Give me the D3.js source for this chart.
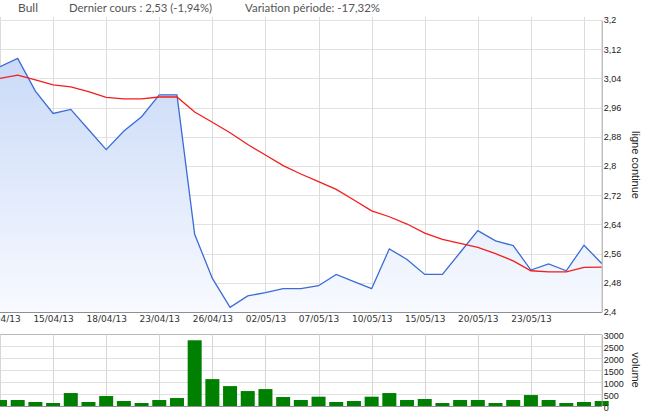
<!DOCTYPE html>
<html><head><meta charset="utf-8">
<script src="https://cdn.jsdelivr.net/npm/d3@7"></script>
<style>
body{margin:0;background:#fff;}
svg{display:block;font-family:"Liberation Sans",Arial,sans-serif;}
</style>
</head><body>
<svg id="chart" width="653" height="417"></svg>
<script>
// ---- data ----
const dates = ["10/04/13","11/04/13","12/04/13","15/04/13","16/04/13","17/04/13","18/04/13","19/04/13","22/04/13","23/04/13",
  "24/04/13","25/04/13","26/04/13","29/04/13","30/04/13","02/05/13","03/05/13","06/05/13","07/05/13","08/05/13",
  "09/05/13","10/05/13","13/05/13","14/05/13","15/05/13","16/05/13","17/05/13","20/05/13","21/05/13","22/05/13",
  "23/05/13","24/05/13","27/05/13","28/05/13","29/05/13"];
const closePrices = [3.072,3.095,3.005,2.944,2.955,2.900,2.845,2.896,2.935,2.995,
  2.995,2.613,2.492,2.413,2.444,2.453,2.464,2.464,2.472,2.503,
  2.483,2.464,2.573,2.544,2.503,2.503,2.563,2.623,2.595,2.582,
  2.515,2.532,2.513,2.583,2.533];
const movingAverage = [3.040,3.049,3.036,3.022,3.017,3.004,2.988,2.984,2.984,2.989,
  2.989,2.948,2.920,2.891,2.859,2.830,2.801,2.778,2.757,2.736,
  2.707,2.677,2.661,2.641,2.616,2.599,2.588,2.577,2.560,2.540,
  2.513,2.510,2.510,2.522,2.523];
const volumes = [250,250,167,125,542,167,417,208,125,250,
  333,2750,1125,833,625,708,375,250,389,167,
  208,389,542,250,292,125,250,250,125,250,
  458,250,125,167,208];
const priceTicks = [2.4,2.48,2.56,2.64,2.72,2.8,2.88,2.96,3.04,3.12,3.2];
const volumeTicks = [0,500,1000,1500,2000,2500,3000];
const dateTicks = ["10/04/13","15/04/13","18/04/13","23/04/13","26/04/13","02/05/13","07/05/13","10/05/13","15/05/13","20/05/13","23/05/13","28/05/13"];
const dateTickLabels = ["10/04/13","15/04/13","18/04/13","23/04/13","26/04/13","02/05/13","07/05/13","10/05/13","15/05/13","20/05/13","23/05/13",""];
const headerTexts = ["Bull","Dernier cours : 2,53 (-1,94%)","Variation période: -17,32%"];
const priceAxisTitle = "ligne continue";
const volumeAxisTitle = "volume";

// ---- layout ----
const svg = d3.select("#chart");
const plotLeft = 0, plotRight = 601.7;
const priceTop = 20, priceBottom = 312;
const volTop = 334.3, volBottom = 406;

const x = d3.scalePoint().domain(dates).range([plotLeft, plotRight]);
const y = d3.scaleLinear().domain([2.4, 3.2]).range([priceBottom, priceTop]);
const yv = d3.scaleLinear().domain([0, 3000]).range([volBottom, volTop]);
const fmtPrice = v => String(+v.toFixed(2)).replace(".", ",");

const defs = svg.append("defs");
const grad = defs.append("linearGradient").attr("id","areaGrad")
  .attr("gradientUnits","userSpaceOnUse").attr("x1",0).attr("x2",0)
  .attr("y1",priceTop).attr("y2",priceBottom);
grad.append("stop").attr("offset","0%").attr("stop-color","#c2d5f6");
grad.append("stop").attr("offset","100%").attr("stop-color","#f8faff");

// header
const headerX = [18, 69, 245];
const headerW = [20, 143, 135];
svg.append("g").selectAll("text").data(headerTexts).join("text")
  .attr("x",(d,i)=>headerX[i]).attr("y",12)
  .attr("textLength",(d,i)=>headerW[i]).attr("lengthAdjust","spacingAndGlyphs")
  .style("font-family","Lato, 'Open Sans', sans-serif").style("font-size","11px")
  .attr("fill","#555").text(d=>d);

// price grid
const gPrice = svg.append("g");
gPrice.selectAll("line.h").data(priceTicks).join("line")
  .attr("x1",plotLeft).attr("x2",plotRight)
  .attr("y1",d=>Math.round(y(d))+0.5).attr("y2",d=>Math.round(y(d))+0.5)
  .attr("stroke","#e2e2e2").attr("stroke-width",1);
gPrice.selectAll("line.v").data(dateTicks).join("line")
  .attr("x1",d=>Math.round(x(d))+0.5).attr("x2",d=>Math.round(x(d))+0.5)
  .attr("y1",17).attr("y2",priceBottom)
  .attr("stroke","#dcdcdc").attr("stroke-width",1);

// area + lines
const area = d3.area().x((d,i)=>x(dates[i])).y0(y(2.4)).y1(d=>y(d));
gPrice.append("path").datum(closePrices).attr("d",area).attr("fill","url(#areaGrad)");
const line = d3.line().x((d,i)=>x(dates[i])).y(d=>y(d));
gPrice.append("path").datum(closePrices).attr("d",line)
  .attr("fill","none").attr("stroke","#3b6bd6").attr("stroke-width",1.3);
gPrice.append("path").datum(movingAverage).attr("d",line)
  .attr("fill","none").attr("stroke","#f41c1c").attr("stroke-width",1.3);

// bottom axis line of price panel
gPrice.append("line").attr("x1",plotLeft).attr("x2",plotRight)
  .attr("y1",priceBottom+0.5).attr("y2",priceBottom+0.5).attr("stroke","#8f8f8f");

// date axis
const xAxis = d3.axisBottom(x).tickValues(dateTicks)
  .tickFormat((d,i)=>dateTickLabels[i]).tickSize(0).tickPadding(4);
const gx = svg.append("g").attr("transform",`translate(0,${priceBottom})`).call(xAxis);
gx.select(".domain").remove();
gx.selectAll("text").style("font-family","'DejaVu Sans',sans-serif").style("font-size","9px").attr("fill","#333");

// price axis (right)
const yAxis = d3.axisRight(y).tickValues(priceTicks).tickFormat(fmtPrice).tickSize(0).tickPadding(2);
const gy = svg.append("g").attr("transform",`translate(${plotRight},0)`).call(yAxis);
gy.select(".domain").attr("stroke","#a0a0a0");
gy.selectAll("text").style("font-size","9px").attr("fill","#222");

svg.append("text").attr("transform",`translate(635,165) rotate(90)`)
  .attr("text-anchor","middle").attr("dominant-baseline","middle")
  .style("font-size","11px").attr("fill","#222").text(priceAxisTitle);

// volume panel
const gVol = svg.append("g");
gVol.selectAll("line.h").data(volumeTicks).join("line")
  .attr("x1",plotLeft).attr("x2",plotRight)
  .attr("y1",d=>Math.round(yv(d))+0.5).attr("y2",d=>Math.round(yv(d))+0.5)
  .attr("stroke",d=>d===3000?"#b8b8b8":"#e0e0e0");
gVol.selectAll("line.v").data(dateTicks).join("line")
  .attr("x1",d=>Math.round(x(d))+0.5).attr("x2",d=>Math.round(x(d))+0.5)
  .attr("y1",volTop).attr("y2",volBottom)
  .attr("stroke","#d6d6d6");
const barW = 14;
gVol.selectAll("rect").data(volumes).join("rect")
  .attr("x",(d,i)=>x(dates[i])-barW/2).attr("width",barW)
  .attr("y",d=>yv(d)).attr("height",d=>volBottom-yv(d))
  .attr("fill","#008000");
gVol.append("line").attr("x1",plotLeft).attr("x2",plotRight)
  .attr("y1",volBottom+0.5).attr("y2",volBottom+0.5).attr("stroke","#8f8f8f");

const yvAxis = d3.axisRight(yv).tickValues(volumeTicks).tickFormat(d3.format("d")).tickSize(0).tickPadding(2);
const gyv = svg.append("g").attr("transform",`translate(${plotRight},0)`).call(yvAxis);
gyv.select(".domain").attr("stroke","#a0a0a0");
gyv.selectAll("text").style("font-size","9px").attr("fill","#222").attr("dy","0.5em");

svg.append("text").attr("transform",`translate(635,370) rotate(90)`)
  .attr("text-anchor","middle").attr("dominant-baseline","middle")
  .style("font-size","11px").attr("fill","#222").text(volumeAxisTitle);
</script>
</body></html>
